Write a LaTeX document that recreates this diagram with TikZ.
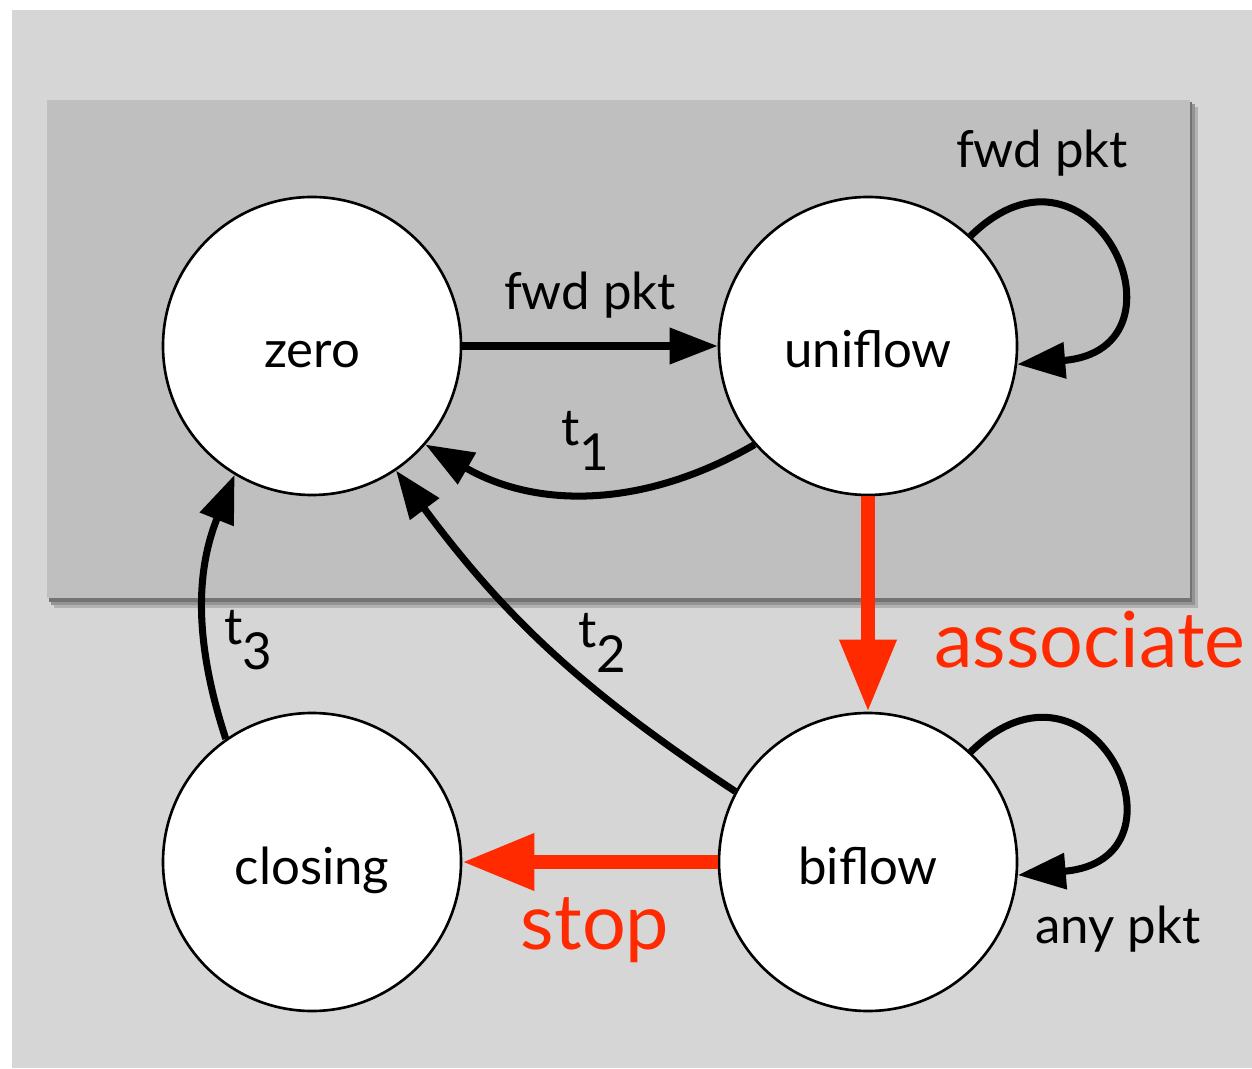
\documentclass[tikz,border=0pt]{standalone}
\usepackage{fontspec}
\setmainfont{Lato}
\usetikzlibrary{arrows.meta}
\definecolor{pageGray}{RGB}{214,214,214}
\definecolor{panelGray}{RGB}{191,191,191}
\definecolor{flowRed}{RGB}{255,42,0}

% timer label: letter with a lowered index
\newcommand{\timerLabel}[2]{#1\raisebox{-0.5em}{#2}}

\begin{document}
\begin{tikzpicture}[
  x=1cm,
  y=1cm,
  state/.style={circle, draw=black, line width=1.5pt, fill=white,
    minimum size=5.96cm, inner sep=0pt, text height=0.88cm, text depth=0pt,
    font=\fontsize{29}{31}\selectfont},
  trans/.style={line width=4pt, -{Triangle[length=0.96cm,width=0.7cm]}},
  bigTrans/.style={draw=flowRed, line width=7.6pt,
    -{Triangle[length=1.44cm,width=1.08cm]}},
  edgeLabel/.style={font=\fontsize{29}{31}\selectfont},
  redLabel/.style={text=flowRed, font=\fontsize{44}{48}\selectfont}
]
  \useasboundingbox (0,0) rectangle (25.04,21.36);

  % page and panel with its drop shadow
  \fill[pageGray] (0.24,0) rectangle (25.04,21.16);
  \fill[black!30] (1.08,9.2) rectangle (23.96,19.22);
  \fill[black!42] (1.02,9.26) rectangle (23.9,19.28);
  \fill[black!55] (0.98,9.32) rectangle (23.84,19.32);
  \fill[panelGray] (0.94,9.4) rectangle (23.8,19.36);

  % states
  \node[state] (zero)    at (6.24,14.44)  {zero};
  \node[state] (uniflow) at (17.36,14.44) {uniflow};
  \node[state] (closing) at (6.24,4.12)   {closing};
  \node[state] (biflow)  at (17.36,4.12)  {biflow};

  % transitions
  \draw[trans] (zero.east) -- (uniflow.west);
  \draw[trans] (uniflow.221) to[bend left=30] (zero.-41);
  \draw[trans] (uniflow.47) .. controls +(2.44,2.4) and +(3.64,0.3) .. (uniflow.-7);
  \draw[trans] (biflow.152) to[bend left=10] (zero.-56);
  \draw[trans] (closing.125) to[bend left=20] (zero.239);
  \draw[trans] (biflow.47) .. controls +(2.44,2.4) and +(3.64,0.3) .. (biflow.-5);
  \draw[bigTrans] (uniflow.south) -- (biflow.north);
  \draw[bigTrans] (biflow.west) -- (closing.east);

  % labels
  \node[edgeLabel] (fwdLabel)  at (11.8,15.46)  {fwd pkt};
  \node[edgeLabel] (loopLabel) at (20.84,18.3)  {fwd pkt};
  \node[edgeLabel] (anyLabel)  at (22.36,2.78)  {any pkt};
  \node[edgeLabel] (tOne)   at (11.7,12.54) {\timerLabel{t}{1}};
  \node[edgeLabel] (tTwo)   at (12.04,8.5)  {\timerLabel{t}{2}};
  \node[edgeLabel] (tThree) at (4.96,8.56)  {\timerLabel{t}{3}};
  \node[redLabel] (assocLabel) at (21.8,8.56) {associate};
  \node[redLabel] (stopLabel)  at (11.9,2.76) {stop};
\end{tikzpicture}
\end{document}
